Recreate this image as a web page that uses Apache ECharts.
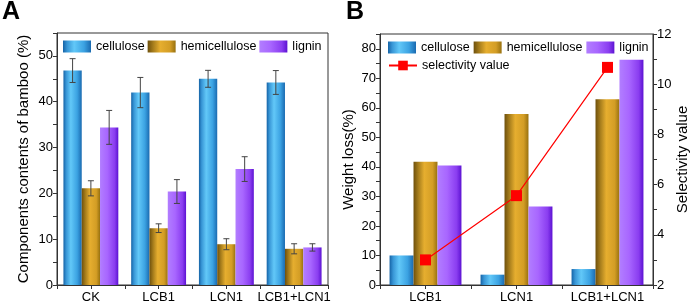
<!DOCTYPE html>
<html>
<head>
<meta charset="utf-8">
<script src="https://cdn.jsdelivr.net/npm/echarts@6/dist/echarts.min.js"></script>
<style>
  html, body { margin: 0; padding: 0; background: #fff; }
  #chart { width: 692px; height: 305px; }
</style>
</head>
<body>
<div id="chart"></div>
<script>
// 两个面板：A 组分含量（带误差棒），B 失重率 + 选择性（右轴）

const catsA = ['CK', 'LCB1', 'LCN1', 'LCB1+LCN1']
const celluloseA = [46.8, 42.0, 45.0, 44.2]
const hemiA = [21.1, 12.4, 8.9, 7.9]
const ligninA = [34.4, 20.4, 25.3, 8.2]
const celluloseErr = [2.6, 3.3, 1.85, 2.6]
const hemiErr = [1.65, 0.95, 1.2, 1.1]
const ligninErr = [3.7, 2.6, 2.7, 0.8]

const catsB = ['LCB1', 'LCN1', 'LCB1+LCN1']
const celluloseB = [10.0, 3.5, 5.4]
const hemiB = [41.7, 57.9, 62.9]
const ligninB = [40.5, 26.6, 76.3]
const selectivity = [3.0, 5.56, 10.67]

const names = ['cellulose', 'hemicellulose', 'lignin']

function grad(stops) {
  return {
    type: 'linear', x: 0, y: 0, x2: 1, y2: 0,
    colorStops: stops.map(([offset, color]) => ({ offset, color })),
  }
}
const fills = [
  grad([[0, '#1563a6'], [0.15, '#3896d6'], [0.4, '#62c8f8'], [0.75, '#3ba2e2'], [1, '#1a6ab0']]),
  grad([[0, '#6e500c'], [0.2, '#a67d1c'], [0.45, '#e6ae2f'], [0.8, '#d39d25'], [1, '#98710f']]),
  grad([[0, '#b27eff'], [0.4, '#a866ff'], [0.8, '#8a3df0'], [1, '#5c12d2']]),
]

const font = 'Liberation Sans, Arial, sans-serif'
const axisColor = '#333'
const slot = 0.27 // 每根柱子占类目宽度的比例（barCategoryGap 19%）

function errorSeries(k, vals, errs) {
  return {
    type: 'custom',
    xAxisIndex: 0,
    yAxisIndex: 0,
    z: 10,
    data: vals.map((v, i) => [i, v, errs[i]]),
    renderItem(params, api) {
      const i = api.value(0)
      const v = api.value(1)
      const e = api.value(2)
      const band = api.size([1, 0])[0]
      const off = (k - 1) * band * slot
      const top = api.coord([i, v + e])
      const bot = api.coord([i, v - e])
      const x = top[0] + off
      const cap = 3
      const style = { stroke: '#444', lineWidth: 1 }
      return {
        type: 'group',
        children: [
          { type: 'line', shape: { x1: x, y1: top[1], x2: x, y2: bot[1] }, style },
          { type: 'line', shape: { x1: x - cap, y1: top[1], x2: x + cap, y2: top[1] }, style },
          { type: 'line', shape: { x1: x - cap, y1: bot[1], x2: x + cap, y2: bot[1] }, style },
        ],
      }
    },
  }
}

function catAxis(gridIndex, data, labels) {
  return {
    type: 'category',
    gridIndex,
    position: 'bottom',
    data,
    axisLine: { show: labels, lineStyle: { color: axisColor } },
    axisTick: { show: true, alignWithLabel: labels, interval: 0, length: 4, lineStyle: { color: axisColor } },
    axisLabel: { show: labels, interval: 0, color: '#000', fontSize: 13, fontFamily: font, margin: 6 },
    splitLine: { show: false },
  }
}

function valAxis(gridIndex, min, max, interval, labelStep, extra) {
  return Object.assign({
    type: 'value',
    gridIndex,
    min, max, interval,
    nameLocation: 'middle',
    nameRotate: 90,
    nameTextStyle: { color: '#000', fontSize: 15, fontFamily: font },
    axisLine: { show: true, lineStyle: { color: axisColor } },
    axisTick: { show: true, length: 4, lineStyle: { color: axisColor } },
    axisLabel: {
      color: '#000', fontSize: 13, fontFamily: font, margin: 4,
      formatter: (v) => (Math.round(v - min) % labelStep === 0 && v <= max ? String(v) : ''),
    },
    splitLine: { show: false },
  }, extra)
}

const legendText = { color: '#000', fontSize: 12.5, fontFamily: font }

const chart = echarts.init(document.getElementById('chart'))

chart.setOption({
  backgroundColor: '#fff',
  animation: false,
  textStyle: { fontFamily: font },
  graphic: [
    { type: 'text', left: 2, top: 0, style: { text: 'A', font: 'bold 25px ' + font, fill: '#000' } },
    { type: 'text', left: 346, top: 0, style: { text: 'B', font: 'bold 25px ' + font, fill: '#000' } },
  ],
  grid: [
    { left: 57, top: 33, right: 364, bottom: 20, show: true, borderColor: axisColor, borderWidth: 1 },
    { left: 380, top: 34, right: 39, bottom: 20, show: true, borderColor: axisColor, borderWidth: 1 },
  ],
  legend: [
    {
      data: names, icon: 'rect', left: 63, top: 40, padding: 0, itemWidth: 28, itemHeight: 12, itemGap: 3,
      textStyle: legendText, selectedMode: false,
    },
    {
      data: names, icon: 'rect', left: 388, top: 41, padding: 0, itemWidth: 28, itemHeight: 12, itemGap: 4,
      textStyle: legendText, selectedMode: false,
    },
    {
      data: ['selectivity value'], left: 388, top: 59, padding: 0, itemWidth: 28, itemHeight: 12,
      textStyle: legendText, selectedMode: false,
    },
  ],
  xAxis: [
    catAxis(0, catsA, true),
    catAxis(0, catsA, false),
    catAxis(1, catsB, true),
    catAxis(1, catsB, false),
  ],
  yAxis: [
    valAxis(0, 0, 55, 5, 10, { name: 'Components contents of bamboo (%)', nameGap: 26 }),
    valAxis(1, 0, 85, 5, 10, { name: 'Weight loss(%)', nameGap: 24 }),
    valAxis(1, 2, 12, 1, 2, { name: 'Selectivity value', nameGap: 22, position: 'right' }),
  ],
  series: [
    ...[celluloseA, hemiA, ligninA].map((d, k) => ({
      name: names[k], type: 'bar', xAxisIndex: 0, yAxisIndex: 0, data: d,
      barGap: '0%', barCategoryGap: '19%', itemStyle: { color: fills[k] },
    })),
    errorSeries(0, celluloseA, celluloseErr),
    errorSeries(1, hemiA, hemiErr),
    errorSeries(2, ligninA, ligninErr),
    ...[celluloseB, hemiB, ligninB].map((d, k) => ({
      name: names[k], type: 'bar', xAxisIndex: 2, yAxisIndex: 1, data: d,
      barGap: '0%', barCategoryGap: '21%', itemStyle: { color: fills[k] },
    })),
    {
      name: 'selectivity value', type: 'line', xAxisIndex: 2, yAxisIndex: 2, data: selectivity,
      symbol: 'rect', symbolSize: 11, z: 10,
      lineStyle: { color: '#ff0000', width: 1.2 }, itemStyle: { color: '#ff0000' },
    },
  ],
})
</script>
</body>
</html>
